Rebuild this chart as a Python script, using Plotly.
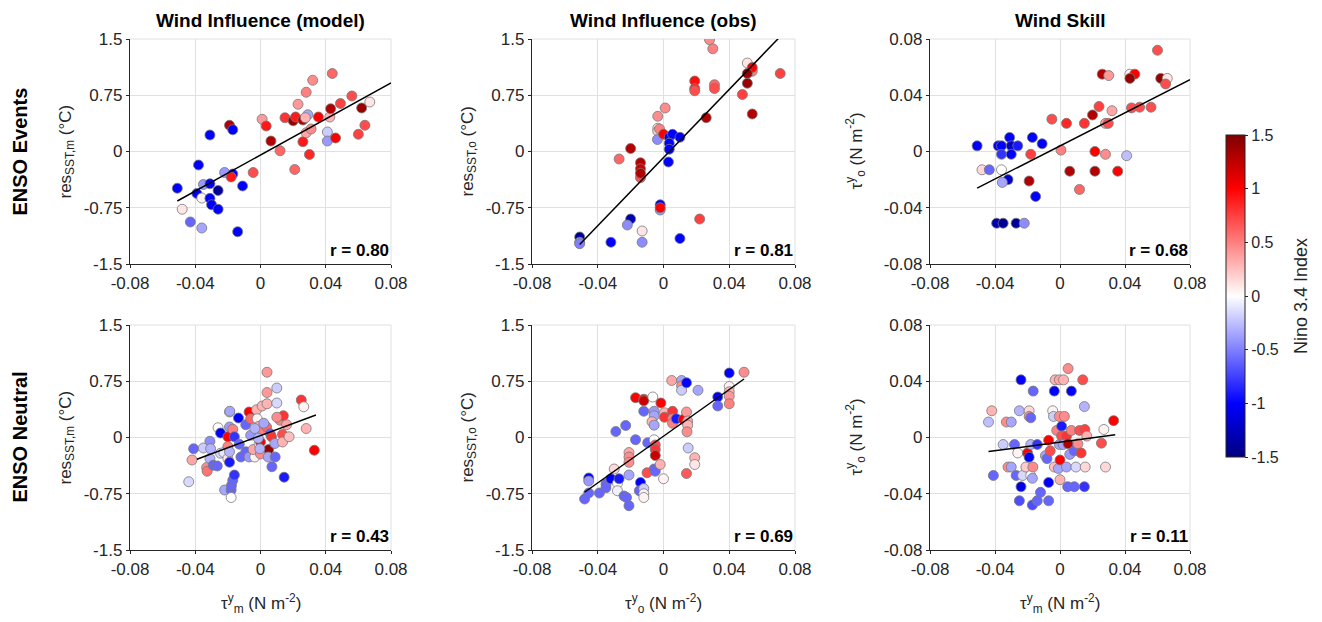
import plotly.graph_objects as go

# ---------------- data ----------------
# Row 1: ENSO events
ev_model_x = [-0.051,-0.048,-0.043,-0.038,-0.036,-0.035,-0.039,-0.036,-0.031,-0.031,-0.030,-0.026,-0.026,-0.031,
              -0.019,-0.017,-0.022,-0.017,-0.018,-0.014,-0.011,-0.0045,0.001,0.0035,0.0064,0.012,0.015,0.021,
              0.020,0.0215,0.023,0.026,0.028,0.029,0.0275,0.026,0.028,0.031,0.030,0.032,0.0355,0.041,0.041,
              0.0425,0.043,0.044,0.046,0.049,0.056,0.060,0.062,0.064,0.067]
ev_model_y = [-0.49,-0.77,-0.94,-0.18,-1.02,-0.44,-0.56,-0.62,-0.43,-0.625,-0.71,-0.52,-0.77,0.22,
              0.35,0.29,-0.28,-0.30,-0.34,-1.07,-0.46,-0.28,0.43,0.34,0.14,0.01,0.45,-0.24,
              0.41,0.46,0.63,0.42,0.79,0.49,0.45,0.13,0.25,0.30,-0.04,0.95,0.46,0.26,0.14,
              0.46,0.57,1.04,0.18,0.64,0.74,0.23,0.58,0.35,0.66]
ev_model_c = [-1.0,0.1,-0.6,-1.0,-0.35,-0.4,-1.0,0.05,-1.0,-1.0,-1.0,-1.4,-1.0,-1.0,
              1.3,-1.0,-0.4,-1.0,0.9,-1.0,-1.0,0.7,0.4,0.9,1.3,0.6,0.8,0.6,
              1.4,0.9,0.4,1.3,0.5,-0.35,0.3,0.9,0.35,0.45,0.85,0.45,1.0,-0.2,-0.4,
              0.3,1.3,0.6,1.0,0.75,0.7,0.75,1.4,0.7,0.1]

ev_obs_x = [-0.051,-0.051,-0.051,-0.032,-0.020,-0.022,-0.013,-0.013,-0.002,-0.002,-0.002,0.010,0.022,
            -0.027,-0.020,-0.014,-0.014,-0.014,-0.014,-0.0035,0.001,-0.0035,-0.0035,-0.0024,-0.0037,0.0,
            0.0035,0.0055,0.0035,0.0035,0.010,0.003,0.019,0.019,0.019,0.026,0.028,0.030,0.031,0.031,
            0.048,0.051,0.054,0.054,0.051,0.051,0.054,0.071]
ev_obs_y = [-1.14,-1.21,-1.23,-1.21,-0.90,-0.98,-1.06,-1.21,-0.71,-0.78,-0.75,-1.16,-0.90,
            -0.10,0.04,-0.15,-0.23,-0.35,-0.29,0.47,0.58,0.31,0.27,0.30,0.16,0.23,
            0.19,0.23,0.11,0.03,0.19,-0.14,0.94,0.84,0.81,0.45,1.49,1.37,0.89,0.84,
            0.76,1.18,1.07,1.12,1.04,0.91,0.50,1.04]
ev_obs_c = [-1.4,-0.45,-0.5,-1.0,-1.3,-0.45,0.1,-0.45,-1.0,-0.4,1.0,-1.0,0.75,
            0.6,1.3,1.3,1.2,0.7,1.3,0.45,0.45,0.15,0.2,0.5,-0.45,1.0,
            -1.0,-1.0,-1.0,-1.0,-1.0,-1.0,0.95,0.85,0.7,1.3,0.45,0.5,0.6,0.7,
            0.75,0.1,0.5,1.0,1.4,1.4,1.3,0.75]

ev_skill_x = [-0.051,-0.048,-0.0435,-0.038,-0.036,-0.036,-0.036,-0.031,-0.030,-0.026,-0.030,-0.032,-0.0355,
              -0.039,-0.035,-0.027,-0.022,-0.017,-0.011,-0.018,-0.019,-0.015,-0.005,0.0006,0.004,0.006,
              0.012,0.015,0.020,0.0215,0.0215,0.024,0.026,0.030,0.032,0.028,0.0297,0.028,0.0355,0.041,
              0.043,0.046,0.043,0.044,0.049,0.056,0.060,0.062,0.066,0.065]
ev_skill_y = [0.004,-0.013,-0.013,0.004,0.004,-0.002,-0.013,0.010,0.004,0.004,-0.002,-0.020,-0.022,
              -0.051,-0.051,-0.051,-0.051,0.010,0.0055,-0.002,-0.021,-0.032,0.023,0.001,0.020,-0.014,
              -0.027,0.020,0.026,0.0,-0.014,0.032,0.055,0.054,0.029,0.020,0.020,-0.002,-0.014,-0.003,
              0.055,0.055,0.052,0.031,0.0315,0.0315,0.072,0.052,0.052,0.048]
ev_skill_c = [-1.0,0.15,-0.6,-1.0,-1.0,-0.8,0.0,-1.0,-1.2,-0.9,-1.0,-1.2,-0.35,
              -1.3,-1.4,-1.4,-0.45,-1.0,-1.0,0.75,1.3,-1.0,0.7,0.5,0.85,1.3,
              0.6,0.8,1.3,1.0,1.3,0.75,1.3,0.4,0.35,0.4,0.7,0.45,1.0,-0.25,
              0.05,1.0,1.4,0.7,0.7,0.7,0.7,1.4,0.1,0.7]

# Row 2: ENSO neutral
nt_model_x = [-0.044,-0.042,-0.041,-0.035,-0.033,-0.0327,-0.031,-0.0306,-0.031,-0.029,-0.0265,-0.026,-0.0245,
              -0.0245,-0.0225,-0.022,-0.020,-0.020,-0.020,-0.019,-0.0188,-0.019,-0.019,-0.019,-0.018,-0.0178,
              -0.017,-0.016,-0.018,-0.017,-0.016,-0.0135,-0.013,-0.012,-0.009,-0.009,-0.007,-0.006,-0.007,
              -0.006,-0.0035,-0.0045,-0.0024,-0.002,-0.001,-0.0008,0.0,0.0,0.0012,0.001,0.004,0.004,0.004,
              0.0037,0.005,0.0047,0.006,0.0067,0.009,0.007,0.010,0.010,0.0088,0.012,0.0135,0.0135,0.014,
              0.016,0.0175,0.0145,0.025,0.0265,0.028,0.033,-0.0035,0.002,-0.0014,0.010,-0.0004]
nt_model_y = [-0.59,-0.30,-0.15,-0.14,-0.40,-0.45,-0.05,-0.15,-0.28,-0.37,-0.38,0.13,0.06,
              -0.21,-0.20,-0.70,-0.28,0.01,-0.12,0.34,0.35,0.14,-0.33,-0.19,-0.70,-0.64,
              -0.57,-0.50,-0.80,0.11,0.01,0.26,-0.09,-0.26,0.17,-0.19,0.34,0.25,-0.26,
              0.03,-0.26,-0.16,0.37,0.25,0.15,-0.08,-0.22,-0.06,0.10,0.42,0.45,0.87,0.60,
              0.14,-0.16,-0.26,0.05,0.01,-0.26,-0.39,0.66,0.46,-0.08,0.23,0.04,-0.06,0.29,
              0.17,0.01,-0.53,0.50,0.41,0.12,-0.17,0.12,0.19,-0.01,0.27,-0.15]
nt_model_c = [-0.15,0.35,-0.6,-0.2,0.45,0.55,-0.45,-0.3,-0.3,-0.6,-0.6,0.0,-1.0,
              -0.15,-0.1,-0.35,0.1,1.0,0.5,0.15,-0.35,-0.4,-0.9,-0.3,-0.6,-0.6,
              -0.6,-0.8,0.0,0.5,-0.8,-1.0,-0.6,-0.6,-0.6,-0.6,1.0,0.6,-0.4,
              -0.4,0.05,0.35,0.3,0.05,0.3,0.0,0.45,1.0,0.5,0.3,0.3,0.4,0.4,
              0.6,1.4,-0.35,-0.6,0.8,-0.6,-0.6,-0.2,-0.15,-0.35,0.5,0.7,0.3,0.8,
              0.35,0.25,-0.9,0.8,0.05,0.3,1.0,-0.3,-0.35,-0.3,0.45,-0.3]

nt_obs_x = [-0.048,-0.0455,-0.0455,-0.0455,-0.039,-0.035,-0.035,-0.032,-0.030,-0.029,-0.028,-0.028,-0.027,
            -0.024,-0.023,-0.0225,-0.021,-0.021,-0.021,-0.021,-0.021,-0.017,-0.017,-0.012,-0.012,-0.014,
            -0.0147,-0.012,-0.012,-0.012,-0.012,-0.0096,-0.010,-0.0065,-0.0057,-0.0057,-0.007,-0.0057,
            -0.0057,-0.005,-0.005,-0.005,-0.0057,-0.005,-0.002,-0.0016,0.0,0.0006,0.0006,0.005,0.0055,
            0.0055,0.0055,0.0078,0.011,0.011,0.011,0.014,0.012,0.014,0.0147,0.0147,0.0143,0.015,0.014,
            0.019,0.019,0.021,0.033,0.033,0.040,0.040,0.040,0.040,0.040,0.049]
nt_obs_y = [-0.82,-0.74,-0.54,-0.58,-0.74,-0.62,-0.67,-0.55,-0.42,0.08,-0.61,-0.71,-0.55,
            -0.78,0.16,-0.80,-0.91,-0.20,-0.26,-0.33,-0.50,-0.03,0.53,0.51,0.35,-0.60,
            -0.71,-0.68,-0.75,-0.80,0.49,-0.07,-0.47,0.54,0.35,0.29,0.21,0.165,
            -0.03,-0.10,-0.16,-0.24,-0.42,-0.45,-0.36,0.46,-0.55,0.33,0.27,0.76,0.35,
            0.25,0.19,0.25,0.76,0.69,0.63,0.73,0.24,0.34,0.22,0.165,0.076,-0.14,-0.48,
            -0.27,-0.36,0.63,0.54,0.42,0.86,0.68,0.61,0.55,0.45,0.87]
nt_obs_c = [-0.6,-0.6,-1.0,-0.4,-0.6,-0.6,-0.6,-1.0,0.15,-0.6,0.0,-0.05,-0.9,
            -0.6,-0.6,-0.6,-0.6,0.35,0.45,0.45,-0.35,-0.6,1.0,0.9,-0.6,-1.0,
            -0.6,-0.2,0.05,0.05,1.2,-0.6,0.7,0.0,-0.4,-0.35,0.3,-0.35,
            0.0,0.7,0.8,1.2,-0.6,-0.6,0.3,1.0,0.05,0.3,0.8,0.35,0.8,
            0.5,0.5,-0.9,-0.35,0.45,-0.2,-1.0,1.0,0.4,0.35,0.3,0.45,-0.2,0.65,
            0.3,0.1,-0.35,-1.0,-0.6,-1.0,0.05,0.3,0.4,0.5,0.45]

nt_skill_x = [-0.044,-0.042,-0.041,-0.035,-0.033,-0.030,-0.032,-0.030,-0.028,-0.027,-0.026,-0.025,-0.024,
              -0.024,-0.025,-0.023,-0.021,-0.020,-0.019,-0.019,-0.018,-0.018,-0.019,-0.018,-0.017,-0.017,
              -0.0165,-0.0167,-0.014,-0.014,-0.012,-0.009,-0.008,-0.007,-0.007,-0.007,-0.006,-0.0045,-0.004,
              -0.003,-0.0004,0.0022,-0.0035,-0.0035,-0.0004,0.0027,-0.002,-0.0004,-0.001,0.0,0.0,0.001,0.001,
              0.004,0.002,0.004,0.005,0.0047,0.006,0.007,0.007,0.0088,0.0088,0.0098,0.011,0.012,0.013,
              0.014,0.015,0.015,0.0153,0.0155,0.0165,0.005,0.0255,0.027,0.028,0.033]
nt_skill_y = [0.011,0.019,-0.027,-0.005,0.011,0.011,-0.021,-0.021,-0.005,-0.027,-0.011,0.019,0.041,
              -0.035,-0.045,-0.027,-0.021,-0.011,0.019,0.015,0.014,-0.005,-0.014,-0.027,-0.029,-0.048,
              0.033,-0.021,-0.005,-0.045,-0.039,-0.013,-0.015,-0.032,-0.045,-0.002,-0.0095,0.019,0.015,
              0.041,0.041,0.041,0.033,-0.021,0.015,0.015,0.005,-0.005,-0.022,-0.030,-0.016,0.008,0.001,
              0.001,-0.005,-0.021,-0.0045,-0.035,-0.012,0.033,0.005,-0.035,-0.0095,-0.021,-0.0045,0.005,-0.011,
              0.041,0.022,-0.035,0.0057,-0.021,0.001,0.049,-0.004,0.0057,-0.021,0.012]
nt_skill_c = [-0.25,0.3,-0.6,-0.2,0.45,-0.35,0.45,-0.35,-0.6,-0.6,0.05,-0.3,-1.0,
              -1.1,-0.7,-0.15,0.2,1.0,0.15,0.45,-0.6,-0.3,-1.0,0.0,-0.35,-0.7,
              -0.6,0.45,-0.8,-0.6,-0.6,-0.35,-0.6,-1.0,-0.6,1.0,0.7,0.05,-0.2,
              0.3,0.35,0.3,-1.0,0.25,0.45,0.45,0.5,-0.35,-0.35,0.3,1.0,-0.9,0.7,
              0.8,-0.35,-0.35,1.3,-0.6,-0.4,-1.0,0.5,-0.6,-0.6,-0.15,0.45,0.7,0.8,
              0.7,-0.3,-0.8,0.75,0.15,0.3,0.45,0.7,0.05,0.15,1.0]

# regression line end points (x0, x1), (y0, y1)
fit_ev_model = ([-0.051, 0.080], [-0.66, 0.915])
fit_ev_obs = ([-0.051, 0.070], [-1.24, 1.51])
fit_ev_skill = ([-0.051, 0.080], [-0.026, 0.051])
fit_nt_model = ([-0.039, 0.034], [-0.29, 0.30])
fit_nt_obs = ([-0.048, 0.049], [-0.73, 0.78])
fit_nt_skill = ([-0.044, 0.034], [-0.010, 0.002])

r_values = ["0.80", "0.81", "0.68", "0.43", "0.69", "0.11"]
col_titles = ["Wind Influence (model)", "Wind Influence (obs)", "Wind Skill"]
row_titles = ["ENSO Events", "ENSO Neutral"]
y_titles = ["res<sub>SST,m</sub> (°C)", "res<sub>SST,o</sub> (°C)", "τ<sup>y</sup><sub>o</sub> (N m<sup>-2</sup>)"]
x_titles = ["τ<sup>y</sup><sub>m</sub> (N m<sup>-2</sup>)", "τ<sup>y</sup><sub>o</sub> (N m<sup>-2</sup>)",
            "τ<sup>y</sup><sub>m</sub> (N m<sup>-2</sup>)"]
x_ticks = [-0.08, -0.04, 0, 0.04, 0.08]
x_ticktext = ["-0.08", "-0.04", "0", "0.04", "0.08"]
res_ticks = [-1.5, -0.75, 0, 0.75, 1.5]
res_ticktext = ["-1.5", "-0.75", "0", "0.75", "1.5"]
cb_ticks = [-1.5, -1, -0.5, 0, 0.5, 1, 1.5]
cb_ticktext = ["-1.5", "-1", "-0.5", "0", "0.5", "1", "1.5"]

panels = [
    (ev_model_x, ev_model_y, ev_model_c, fit_ev_model),
    (ev_obs_x, ev_obs_y, ev_obs_c, fit_ev_obs),
    (ev_skill_x, ev_skill_y, ev_skill_c, fit_ev_skill),
    (nt_model_x, nt_model_y, nt_model_c, fit_nt_model),
    (nt_obs_x, nt_obs_y, nt_obs_c, fit_nt_obs),
    (nt_skill_x, nt_skill_y, nt_skill_c, fit_nt_skill),
]

# ---------------- layout geometry ----------------
W, H = 1322, 622
col_px = [(130, 391), (532, 795), (930, 1190)]
row_px = [(39, 264), (325, 550)]
FONT = "Liberation Sans, Arial, Helvetica, sans-serif"
TXT = "rgb(38,38,38)"
GRID = "rgb(224,224,224)"

colorscale = [[0.0, "rgb(0,0,128)"], [1/6, "rgb(0,0,255)"], [0.5, "rgb(255,255,255)"],
              [5/6, "rgb(255,0,0)"], [1.0, "rgb(128,0,0)"]]

fig = go.Figure()
layout = dict(width=W, height=H, margin=dict(l=0, r=0, t=0, b=0, autoexpand=False),
              paper_bgcolor="white", plot_bgcolor="white", showlegend=False,
              font=dict(family=FONT, color=TXT, size=16))
annotations = []
shapes = []

for i, (px, py, pc, fit) in enumerate(panels):
    r, c = divmod(i, 3)
    n = i + 1
    xa = "x" if n == 1 else f"x{n}"
    ya = "y" if n == 1 else f"y{n}"
    x0p, x1p = col_px[c]
    y0p, y1p = row_px[r]
    xdom = [x0p / W, x1p / W]
    ydom = [1 - y1p / H, 1 - y0p / H]
    axis_common = dict(showline=True, linecolor=TXT, linewidth=1.2, ticks="outside", ticklen=3,
                       tickcolor=TXT, showgrid=True, gridcolor=GRID, gridwidth=1, zeroline=False,
                       tickfont=dict(size=17, color=TXT, family=FONT), mirror=False, automargin=False)
    layout["xaxis" if n == 1 else f"xaxis{n}"] = dict(
        domain=xdom, anchor=ya, range=[-0.08, 0.08], tickvals=x_ticks, ticktext=x_ticktext, **axis_common)
    if c < 2:
        yt = dict(range=[-1.5, 1.5], tickvals=res_ticks, ticktext=res_ticktext)
    else:
        yt = dict(range=[-0.08, 0.08], tickvals=x_ticks, ticktext=x_ticktext)
    layout["yaxis" if n == 1 else f"yaxis{n}"] = dict(domain=ydom, anchor=xa, **yt, **axis_common)

    # light border on top and right (like gridlines at the limits)
    shapes.append(dict(type="line", xref=f"{xa} domain", yref=f"{ya} domain", x0=0, x1=1, y0=1, y1=1,
                       line=dict(color=GRID, width=1), layer="below"))
    shapes.append(dict(type="line", xref=f"{xa} domain", yref=f"{ya} domain", x0=1, x1=1, y0=0, y1=1,
                       line=dict(color=GRID, width=1), layer="below"))

    fig.add_trace(go.Scatter(
        x=px, y=py, mode="markers", xaxis=xa, yaxis=ya,
        marker=dict(size=10, color=pc, coloraxis="coloraxis",
                    line=dict(color="rgb(120,120,120)", width=0.8)),
        hoverinfo="skip"))
    fig.add_trace(go.Scatter(
        x=fit[0], y=fit[1], mode="lines", xaxis=xa, yaxis=ya,
        line=dict(color="black", width=1.5), hoverinfo="skip"))

    annotations.append(dict(text=f"<b>r = {r_values[i]}</b>", xref=f"{xa} domain", yref=f"{ya} domain",
                            x=1, y=0, xanchor="right", yanchor="bottom", yshift=2, showarrow=False,
                            font=dict(size=17, color="black", family=FONT)))

# column titles
for c in range(3):
    cx = (col_px[c][0] + col_px[c][1]) / 2 / W
    annotations.append(dict(text=f"<b>{col_titles[c]}</b>", xref="paper", yref="paper", x=cx, y=1 - 21 / H,
                            xanchor="center", yanchor="middle", showarrow=False,
                            font=dict(size=19, color="black", family=FONT)))
# row titles
for r in range(2):
    cy = 1 - (row_px[r][0] + row_px[r][1]) / 2 / H
    annotations.append(dict(text=f"<b>{row_titles[r]}</b>", xref="paper", yref="paper", x=19 / W, y=cy,
                            xanchor="center", yanchor="middle", textangle=-90, showarrow=False,
                            font=dict(size=20, color="black", family=FONT)))
# y axis titles
ylab_x = [66, 468, 856]
for r in range(2):
    cy = 1 - (row_px[r][0] + row_px[r][1]) / 2 / H
    for c in range(3):
        annotations.append(dict(text=y_titles[c], xref="paper", yref="paper", x=ylab_x[c] / W, y=cy,
                                xanchor="center", yanchor="middle", textangle=-90, showarrow=False,
                                font=dict(size=17, color=TXT, family=FONT)))
# x axis titles (bottom row)
for c in range(3):
    cx = (col_px[c][0] + col_px[c][1]) / 2 / W
    annotations.append(dict(text=x_titles[c], xref="paper", yref="paper", x=cx, y=1 - 603 / H,
                            xanchor="center", yanchor="middle", showarrow=False,
                            font=dict(size=17, color=TXT, family=FONT)))
# colorbar title
annotations.append(dict(text="Nino 3.4 Index", xref="paper", yref="paper", x=1301 / W, y=1 - 296 / H,
                        xanchor="center", yanchor="middle", textangle=-90, showarrow=False,
                        font=dict(size=18, color=TXT, family=FONT)))

layout["annotations"] = annotations
layout["shapes"] = shapes
layout["coloraxis"] = dict(
    colorscale=colorscale, cmin=-1.5, cmax=1.5,
    colorbar=dict(x=1226 / W, xanchor="left", y=1 - 296 / H, yanchor="middle",
                  len=322 / H, lenmode="fraction", thickness=19, thicknessmode="pixels",
                  outlinecolor=TXT, outlinewidth=1, ticks="outside", ticklen=3,
                  tickcolor=TXT, tickvals=cb_ticks, ticktext=cb_ticktext,
                  tickfont=dict(size=16, color=TXT, family=FONT), xpad=0, ypad=0))
fig.update_layout(**layout)
fig.write_html("out.html", config={"displayModeBar": False, "staticPlot": True},
               post_script="document.body.style.margin='0';document.body.style.overflow='hidden';")
